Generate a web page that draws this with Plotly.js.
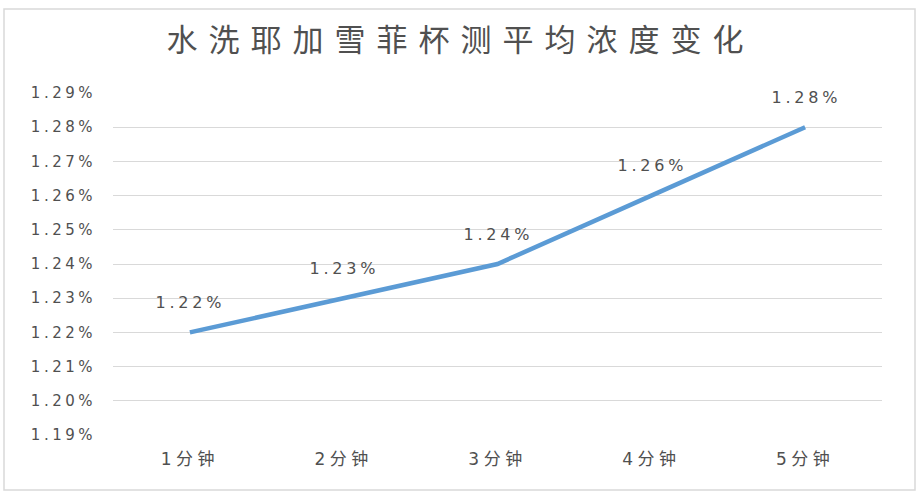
<!DOCTYPE html>
<html>
<head>
<meta charset="utf-8">
<script src="https://cdn.plot.ly/plotly-3.0.1.min.js"></script>
<style>
  html, body { margin: 0; padding: 0; background: #fff; }
  #chart { width: 921px; height: 498px; }
  /* the reference text is drawn wide, so open up the spacing */
  #chart .gtitle { letter-spacing: 11px; }
  #chart .ytick text { letter-spacing: 3.5px; }
  #chart .xtick text { letter-spacing: 4.5px; }
  #chart .annotation-text { letter-spacing: 3.8px; }
</style>
</head>
<body>
<div id="chart"></div>
<script>
const categories = ['1分钟', '2分钟', '3分钟', '4分钟', '5分钟'];
const concentration = [1.22, 1.23, 1.24, 1.26, 1.28];
const tickValues = [1.19, 1.20, 1.21, 1.22, 1.23, 1.24, 1.25, 1.26, 1.27, 1.28, 1.29];
const tickLabels = tickValues.map(v => v.toFixed(2) + '%');

const textColor = '#505050';
const baseFont = 'DejaVu Sans, "Noto Sans CJK SC", sans-serif';

var trace = {
    x: categories,
    y: concentration,
    type: 'scatter',
    mode: 'lines',
    line: { color: '#5B9BD5', width: 4.5 },
    hoverinfo: 'skip'
};

var labels = categories.map((c, i) => ({
    x: c,
    y: concentration[i],
    text: concentration[i].toFixed(2) + '%',
    showarrow: false,
    xshift: 1,
    yshift: 30,
    font: { family: baseFont, size: 16, color: textColor }
}));

const layout = {
    width: 921,
    height: 498,
    margin: { l: 113, r: 39, t: 93, b: 63 },
    paper_bgcolor: '#fff',
    plot_bgcolor: '#fff',
    showlegend: false,
    title: {
        text: '水洗耶加雪菲杯测平均浓度变化',
        font: { family: '"Noto Sans CJK SC", sans-serif', size: 31, color: textColor },
        x: 0.5,
        xanchor: 'center',
        y: 0.92,
        yanchor: 'middle'
    },
    xaxis: {
        type: 'category',
        range: [-0.5, 4.5],
        showgrid: false,
        zeroline: false,
        showline: false,
        ticks: '',
        ticklabelstandoff: 12,
        tickfont: { family: baseFont, size: 17, color: textColor },
        fixedrange: true
    },
    yaxis: {
        range: [1.19, 1.29],
        tickvals: tickValues,
        ticktext: tickLabels,
        showgrid: true,
        gridcolor: '#d9d9d9',
        gridwidth: 1,
        zeroline: false,
        showline: false,
        ticks: '',
        ticklabelstandoff: 16,
        tickfont: { family: baseFont, size: 15, color: textColor },
        fixedrange: true
    },
    annotations: labels,
    shapes: [{
        type: 'rect',
        xref: 'paper', yref: 'paper',
        x0: (4 - 113) / 769, x1: (915 - 113) / 769,
        y0: (435 - 490) / 342, y1: (435 - 9) / 342,
        line: { color: '#d9d9d9', width: 1.5 },
        fillcolor: 'rgba(0,0,0,0)',
        layer: 'below'
    }]
};

Plotly.newPlot('chart', [trace], layout, { displayModeBar: false, staticPlot: true });
</script>
</body>
</html>
